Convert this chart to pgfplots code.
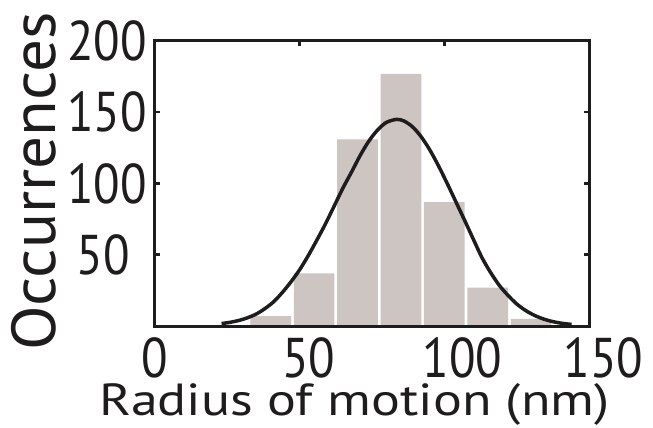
\documentclass[border=0pt]{standalone}
\usepackage{fontspec}
\setmainfont{PT Sans}[FakeStretch=0.87]
\newfontfamily\xlabfont{PT Sans}[FakeStretch=1.2]
\newfontfamily\ylabfont{PT Sans}[FakeStretch=1.05]
\usepackage{pgfplots}
\pgfplotsset{compat=1.18}
\definecolor{barc}{RGB}{205,197,193}
\definecolor{ink}{RGB}{30,28,29}
\begin{document}
\begin{tikzpicture}
\begin{axis}[
  at={(0,0)}, anchor=south west,
  scale only axis, width=434pt, height=285pt,
  xmin=0, xmax=150, ymin=0, ymax=200,
  xtick={0,50,100,150}, ytick={50,100,150,200},
  xticklabels={{0},{\hspace*{18pt}50},{\hspace*{36pt}100},{\hspace*{29pt}150}},
  yticklabels={{50\hspace*{17pt}},{100},{150},{200}},
  tick align=inside,
  xtick pos=upper, xticklabel pos=lower,
  ytick pos=both, yticklabel pos=left,
  major tick length=5pt,
  every tick/.style={ink, line width=2.5pt},
  axis line style={ink, line width=3pt},
  axis on top,
  tick label style={font=\fontsize{56}{60}\selectfont, text=ink, inner sep=0pt},
  xticklabel style={yshift=-11pt},
  yticklabel style={xshift=-8pt},
  xlabel={Radius of motion (nm)},
  xlabel style={at={(axis description cs:0.4597,-0.3123)}, anchor=base, font=\xlabfont\fontsize{45}{50}\selectfont, text=ink, inner sep=0pt},
  ylabel={Occurrences},
  ylabel style={at={(axis description cs:-0.2304,0.507)}, anchor=base, font=\ylabfont\fontsize{62}{66}\selectfont, text=ink, inner sep=0pt},
]
\addplot[ybar, bar width=14.07, fill=barc, draw=none] coordinates {
  (40,7) (55,37) (70,131) (85,177) (100,87) (115,27) (130,5)
};
\addplot[smooth, ink, line width=3.5pt] coordinates {
  (23,1.7) (26,2.6) (29,3.9) (32,5.8) (35,8.4) (38,12.2) (41,17) (44,23.5)
  (47,31) (50,39.5) (53,49.5) (56,60.5) (59,72) (62,84.5) (65,97) (68,108.3)
  (71,120) (74,130) (77,137.7) (80,142.9) (83.5,145) (86,143.9) (89,139.8)
  (92,132.8) (95,123.5) (98,112.3) (101,100) (104,87.1) (107,74.2) (110,61)
  (113,48) (116,37.5) (119,28.5) (122,21.5) (125,15.5) (128,11) (131,7.6)
  (134,5.1) (137,3.3) (140,2.1) (143,1.3) (144,1.1)
};
\end{axis}
\pgfresetboundingbox
\path[use as bounding box] (-155pt,-102pt) rectangle (498pt,326pt);
\end{tikzpicture}
\end{document}
